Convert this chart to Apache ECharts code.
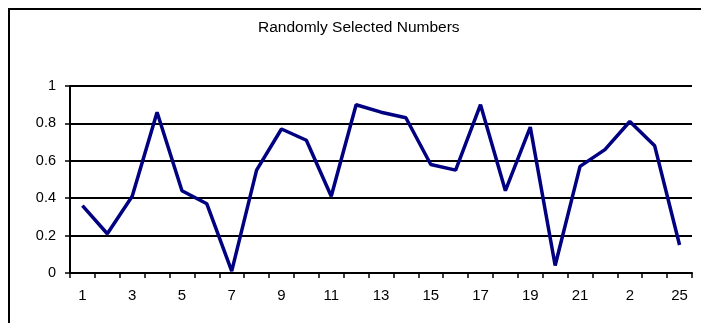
<!DOCTYPE html>
<html>
<head>
<meta charset="utf-8">
<script src="https://cdn.jsdelivr.net/npm/echarts@6/dist/echarts.min.js"></script>
<style>
  html, body { margin: 0; padding: 0; background: #fff; }
  #chart { width: 701px; height: 323px; }
</style>
</head>
<body>
<div id="chart"></div>
<script>
// data
const categories = ['1', '2', '3', '4', '5', '6', '7', '8', '9', '10', '11', '12', '13',
  '14', '15', '16', '17', '18', '19', '20', '21', '22', '23', '24', '25'];
// tick labels as printed (label for 23 shows as "2")
const tickLabels = ['1', '2', '3', '4', '5', '6', '7', '8', '9', '10', '11', '12', '13',
  '14', '15', '16', '17', '18', '19', '20', '21', '22', '2', '24', '25'];
const values = [0.36, 0.21, 0.41, 0.86, 0.44, 0.37, 0.01, 0.55, 0.77, 0.71, 0.41, 0.90, 0.86,
  0.83, 0.58, 0.55, 0.90, 0.44, 0.78, 0.04, 0.57, 0.66, 0.81, 0.68, 0.15];

const myChart = echarts.init(document.getElementById('chart'));

const option = {
  animation: false,
  title: {
    text: 'Randomly Selected Numbers',
    left: 258,
    top: 20,
    padding: 0,
    textStyle: {
      fontFamily: 'Liberation Sans',
      fontSize: 15.5,
      fontWeight: 'normal',
      color: '#000',
    },
  },
  graphic: [
    {
      // outer chart frame, only top/left edges fall inside the window
      type: 'rect',
      shape: { x: 9, y: 9, width: 800, height: 400 },
      style: { fill: 'none', stroke: '#000', lineWidth: 2 },
      silent: true,
    },
  ],
  grid: {
    left: 70,
    right: 9,
    top: 86,
    bottom: 50,
  },
  xAxis: {
    type: 'category',
    data: categories,
    boundaryGap: true,
    axisLine: { lineStyle: { color: '#000', width: 2 } },
    axisTick: { show: true, interval: 0, length: 5, lineStyle: { color: '#000', width: 1.5 } },
    axisLabel: {
      interval: 1,
      margin: 15,
      color: '#000',
      fontFamily: 'Liberation Sans',
      fontSize: 15,
      formatter: (v, i) => tickLabels[i],
    },
    splitLine: { show: false },
  },
  yAxis: {
    type: 'value',
    min: 0,
    max: 1,
    interval: 0.2,
    axisLine: { show: true, lineStyle: { color: '#000', width: 2 } },
    axisTick: { show: true, length: 5, lineStyle: { color: '#000', width: 1.5 } },
    axisLabel: {
      margin: 14,
      color: '#000',
      fontFamily: 'Liberation Sans',
      fontSize: 14.5,
    },
    splitLine: { show: true, lineStyle: { color: '#000', width: 2 } },
  },
  series: [
    {
      type: 'line',
      data: values,
      symbol: 'none',
      lineStyle: { color: '#000080', width: 3.5 },
    },
  ],
};

myChart.setOption(option);
</script>
</body>
</html>
